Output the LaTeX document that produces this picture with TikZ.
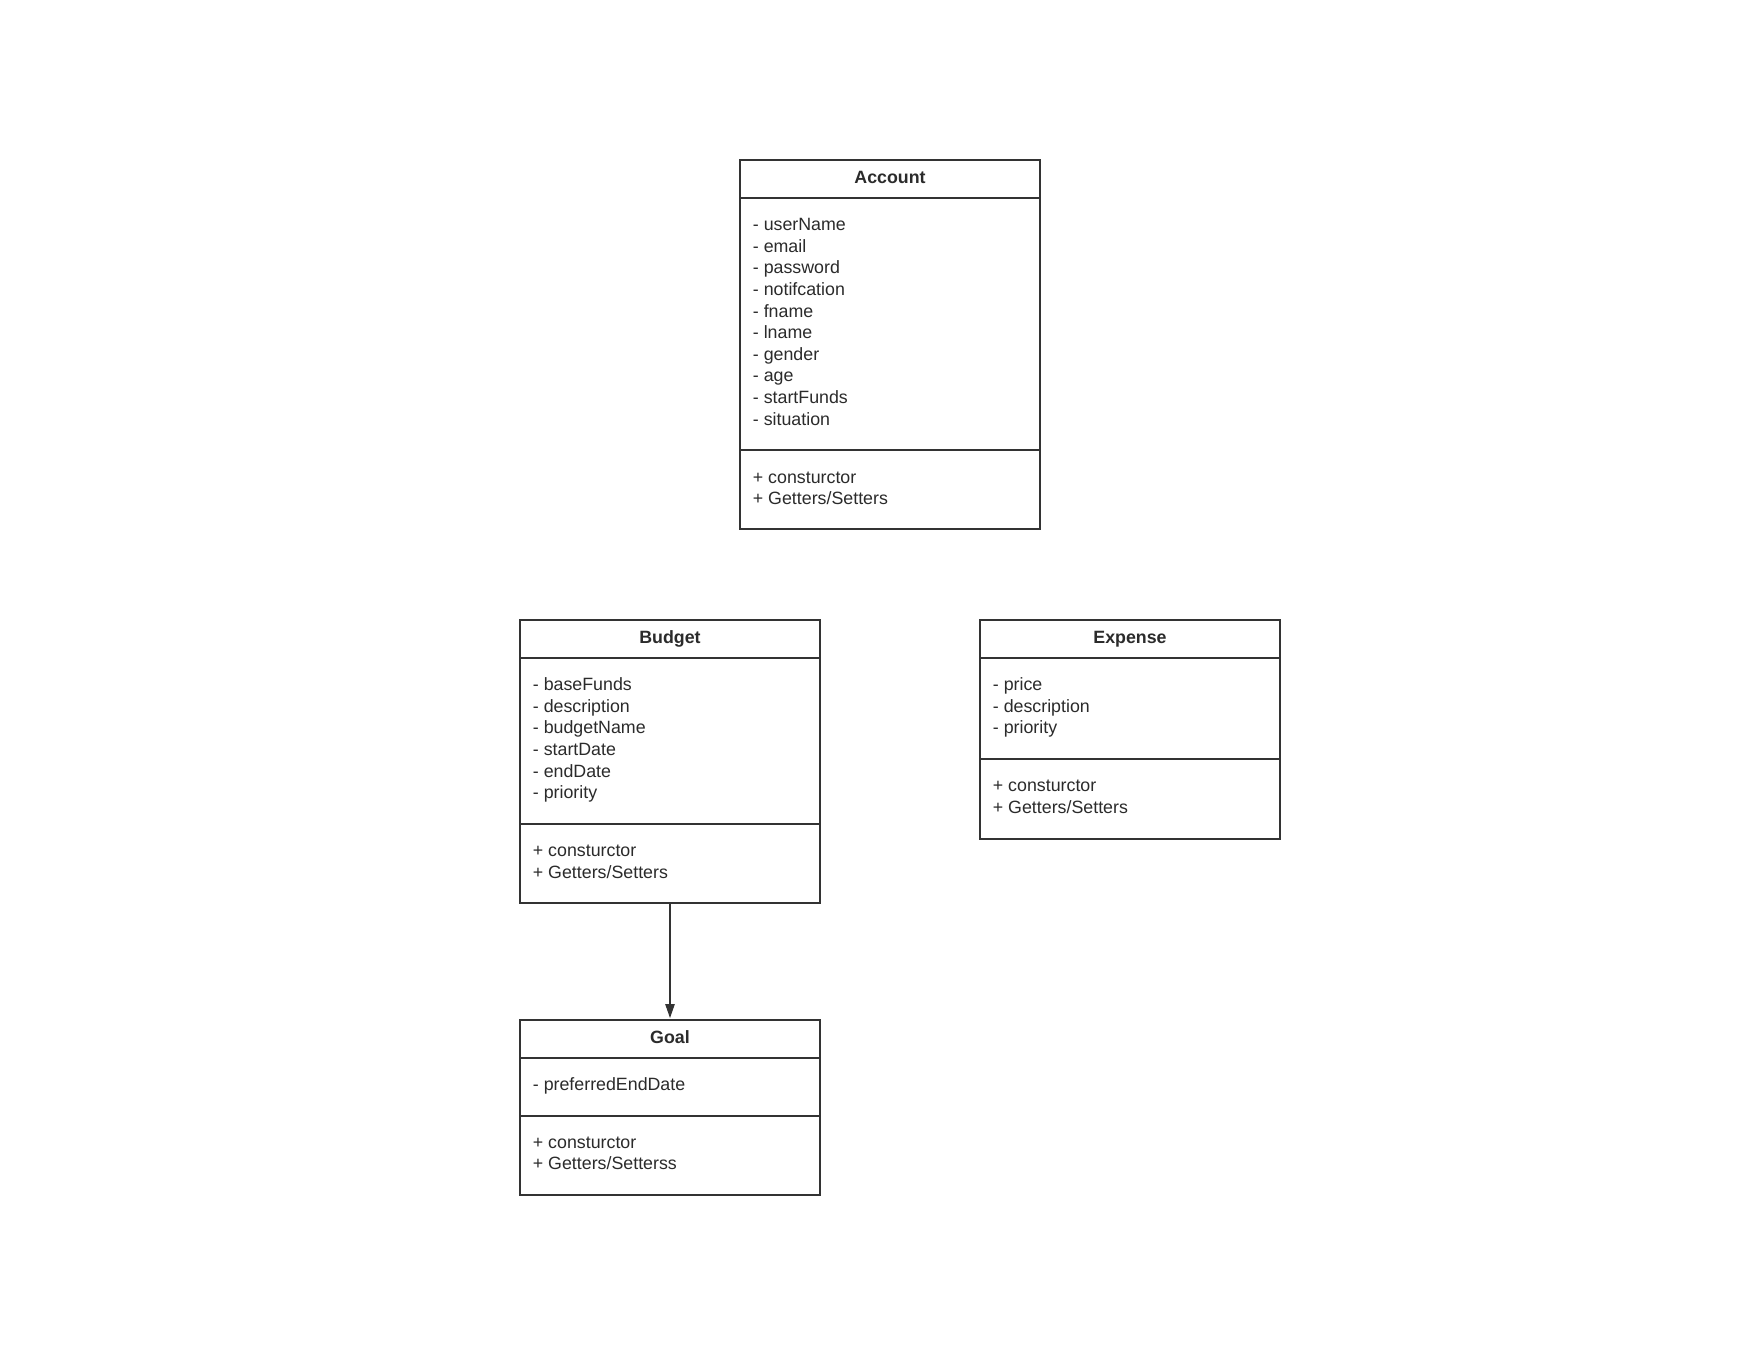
\documentclass[tikz,border=0pt]{standalone}
\usepackage{fontspec}
\setmainfont{Liberation Sans}
\usetikzlibrary{arrows.meta}
\definecolor{linec}{HTML}{333333}
\definecolor{txt}{HTML}{2B2B2B}
\begin{document}
\begin{tikzpicture}[x=1pt,y=-1pt,
  box/.style={draw=linec, line width=2pt, inner sep=0pt, outer sep=0pt, anchor=north west, minimum width=300pt, fill=white},
  sep/.style={draw=linec, line width=2pt},
  ttl/.style={font=\bfseries\fontsize{17.8}{21.6}\selectfont, text=txt, anchor=base, inner sep=0pt},
  ln/.style={font=\fontsize{17.8}{21.6}\selectfont, text=txt, anchor=base west, inner sep=0pt},
  assoc/.style={draw=linec, line width=1.1pt, -{Triangle[length=14pt,width=9.5pt]}, shorten >=2pt}]
\useasboundingbox[fill=white] (0,0) rectangle (1760,1360);

% Account
\node[box, minimum height=369pt] (account) at (740,160) {};
\draw[sep] (740,198) -- (1040,198);
\draw[sep] (740,450) -- (1040,450);
\node[ttl] (account-title) at (890,183) {Account};
\foreach \t [count=\i] in {userName,email,password,notifcation,fname,lname,gender,age,startFunds,situation}
  \node[ln] (account-a\i) at (752.7,{230.7+21.6*(\i-1)}) {- \t};
\node[ln] (account-m1) at (752.7,483.3) {+ consturctor};
\node[ln] (account-m2) at (752.7,504.9) {+ Getters/Setters};

% Budget
\node[box, minimum height=283pt] (budget) at (520,620) {};
\draw[sep] (520,657.5) -- (820,657.5);
\draw[sep] (520,824) -- (820,824);
\node[ttl] (budget-title) at (670,643) {Budget};
\foreach \t [count=\i] in {baseFunds,description,budgetName,startDate,endDate,priority}
  \node[ln] (budget-a\i) at (532.7,{690.7+21.6*(\i-1)}) {- \t};
\node[ln] (budget-m1) at (532.7,856.7) {+ consturctor};
\node[ln] (budget-m2) at (532.7,878.3) {+ Getters/Setters};

% Expense
\node[box, minimum height=219pt] (expense) at (980,620) {};
\draw[sep] (980,657.5) -- (1280,657.5);
\draw[sep] (980,759) -- (1280,759);
\node[ttl] (expense-title) at (1130,643) {Expense};
\foreach \t [count=\i] in {price,description,priority}
  \node[ln] (expense-a\i) at (992.7,{690.7+21.6*(\i-1)}) {- \t};
\node[ln] (expense-m1) at (992.7,791.7) {+ consturctor};
\node[ln] (expense-m2) at (992.7,813.3) {+ Getters/Setters};

% Goal
\node[box, minimum height=175pt] (goal) at (520,1020) {};
\draw[sep] (520,1058) -- (820,1058);
\draw[sep] (520,1116) -- (820,1116);
\node[ttl] (goal-title) at (670,1043) {Goal};
\node[ln] (goal-a1) at (532.7,1090.7) {- preferredEndDate};
\node[ln] (goal-m1) at (532.7,1148.3) {+ consturctor};
\node[ln] (goal-m2) at (532.7,1169.9) {+ Getters/Setterss};

% Connector
\draw[assoc] (budget.south) -- (goal.north);
\end{tikzpicture}
\end{document}
